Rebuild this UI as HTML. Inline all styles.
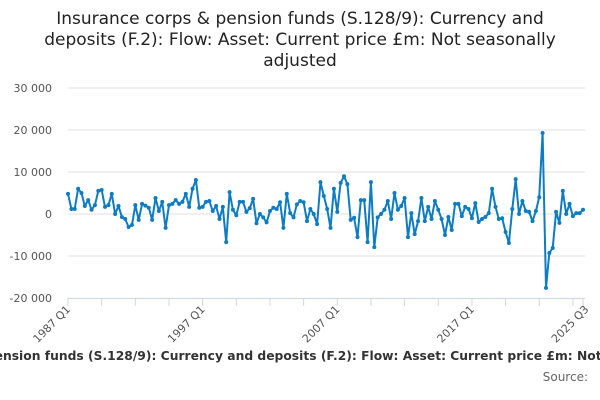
<!DOCTYPE html>
<html><head><meta charset="utf-8"><style>
body{margin:0;width:600px;height:400px;overflow:hidden;background:#fff;font-family:"Liberation Sans","DejaVu Sans",sans-serif;position:relative;}
#title{position:absolute;left:40px;width:520px;top:9px;text-align:center;font-family:"DejaVu Sans",sans-serif;font-size:17px;line-height:21px;color:#222;}
#clip{position:absolute;left:0;top:349px;width:600px;height:20px;overflow:hidden;}
#sub{position:absolute;top:0;left:-300px;width:1200px;text-align:center;white-space:nowrap;font-family:"DejaVu Sans",sans-serif;font-weight:bold;font-size:12.3px;color:#333;}
#src{position:absolute;top:370px;right:12px;font-family:"DejaVu Sans",sans-serif;font-size:12px;color:#666;}
</style></head><body>
<div id="title">Insurance corps &amp; pension funds (S.128/9): Currency and deposits (F.2): Flow: Asset: Current price £m: Not seasonally adjusted</div>
<svg id="chart" width="600" height="400" style="position:absolute;left:0;top:0"></svg>
<div id="clip"><div id="sub">Insurance corps &amp; pension funds (S.128/9): Currency and deposits (F.2): Flow: Asset: Current price £m: Not seasonally adjusted</div></div>
<div id="src">Source:</div>
<script>
const yTicks=[30000,10000,0,-10000,-20000,20000];
const yTickLabels=["30 000","10 000","0","-10 000","-20 000","20 000"];
const xLabelIdx=[0,40,80,120,154];
const xLabels=["1987 Q1","1997 Q1","2007 Q1","2017 Q1","2025 Q3"];
const values=[4800,1200,1200,6000,5000,1900,3300,1000,2100,5500,
5700,1700,2100,4800,0,1900,-700,-1200,-3100,-2600,
2100,-1400,2400,2000,1500,-1400,3800,700,2900,-3300,
2100,2400,3300,2400,2900,4800,1700,6000,8100,1500,
1700,2900,3100,700,1900,-1200,1700,-6700,5200,1000,
-300,2900,2900,500,1400,3600,-2200,0,-800,
-2000,700,1500,1200,2800,-3300,4800,200,-800,2300,
3100,2800,-1700,1200,0,-2400,7600,4300,1200,-3300,
6000,500,7400,9000,7100,-1400,-900,-5500,3300,3300,
-6700,7600,-7900,-800,0,1000,3100,-1200,5000,1000,1900,
3800,-5500,200,-4800,-1700,3800,-1700,1700,-1200,3100,
1000,-1200,-5000,-700,-3800,2400,2400,-500,1700,1200,
-1000,2600,-1900,-1200,-700,200,6000,1700,-1200,-1000,
-4300,-6900,1200,8300,0,3100,700,500,-1700,700,
4000,19300,-17600,-9300,-8100,500,-2100,5500,0,2400,
-500,200,200,1000];
const X0=68,X1=583,Y0=214,PX=4.2/1000;
const n=values.length;
function xs(i){return X0+(X1-X0)*i/(n-1);}
function ys(v){return Y0-v*PX;}
const svg=document.getElementById('chart');const NS='http://www.w3.org/2000/svg';
function mk(t,a){const e=document.createElementNS(NS,t);for(const k in a)e.setAttribute(k,a[k]);svg.appendChild(e);return e;}
yTicks.forEach((v,i)=>{
 if(v!==-20000){const g=mk('line',{x1:X0,x2:X1+2,y1:ys(v),y2:ys(v),stroke:'#e0e0e0','stroke-width':1});
 
 }
 const t=mk('text',{x:52,y:ys(v)+4,'text-anchor':'end','font-size':11,fill:'#555','font-family':'DejaVu Sans, sans-serif'});
 t.textContent=yTickLabels[i];
 
 
});
const ax=mk('line',{x1:X0,x2:X1+2,y1:298.5,y2:298.5,stroke:'#ccd6eb','stroke-width':1});


for(let i=0;i<n;i+=10){const tk=mk('line',{x1:xs(i),x2:xs(i),y1:298,y2:306,stroke:'#ccd6eb'});

}
{const tk=mk('line',{x1:xs(n-1),x2:xs(n-1),y1:298,y2:306,stroke:'#ccd6eb'});

}
xLabelIdx.forEach((ix,i)=>{const x=xs(ix);
 const t=mk('text',{x:x+3,y:310,'text-anchor':'end','font-size':11,fill:'#555','font-family':'DejaVu Sans, sans-serif',transform:`rotate(-45 ${x+3} 310)`});
 t.textContent=xLabels[i];
 
 });
const pts=values.map((v,i)=>xs(i).toFixed(1)+','+ys(v).toFixed(1)).join(' ');
const pl=mk('polyline',{points:pts,fill:'none',stroke:'#0e7cc2','stroke-width':2,'stroke-linejoin':'round'});


values.forEach((v,i)=>{const c=mk('circle',{cx:xs(i),cy:ys(v),r:2,fill:'#0e7cc2'});

});
</script>
</body></html>
